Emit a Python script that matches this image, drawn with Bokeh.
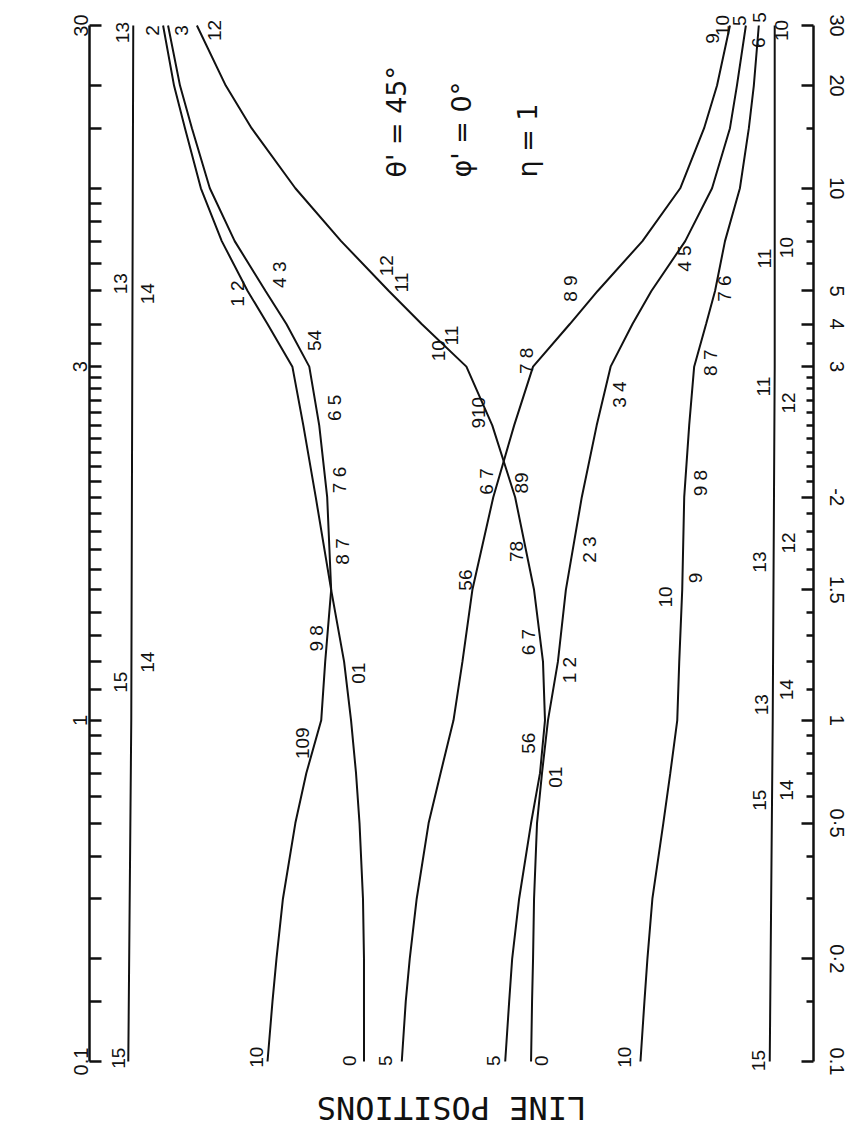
import math
from bokeh.plotting import figure
from bokeh.models import (Range1d, LinearAxis, FixedTicker, CustomJSTickFormatter,
                          ColumnDataSource, LabelSet, Label)
from bokeh.core.properties import value
from bokeh.embed import file_html
from bokeh.resources import INLINE

# ---------------- data ----------------
# field values at which the curves are sampled (vertical axis)
field = [30, 20, 15, 10, 7, 5, 4, 3, 2.5, 2, 1.5, 1.2, 1, 0.7, 0.5, 0.3, 0.2, 0.15, 0.1]

# line positions (arbitrary units) of each curve at the field values above
curve_a = [-29.0, -27.9, -26.8, -25.2, -23.1, -20.5, -18.5, -16.0, -14.9, -13.65, -12.1,
           -10.8, -10.1, -9.6, -9.25, -8.9, -8.8, -8.8, -8.8]
curve_b = [-28.5, -27.3, -26.1, -24.3, -21.8, -18.7, -16.6, -14.3, -13.3, -12.5, -12.1,
           -12.7, -13.1, -14.6, -15.7, -16.95, -17.6, -18.0, -18.5]
curve_c = [-25.6, -22.7, -20.1, -15.7, -11.1, -6.3, -3.0, 1.5, 4.1, 6.4, 8.3,
           9.2, 9.4, 8.9, 8.0, 6.8, 6.1, 5.8, 5.4]
curve_d = [28.0, 26.7, 25.4, 23.0, 19.2, 14.7, 11.9, 8.2, 6.3, 4.2, 2.1,
           1.1, 0.2, -1.1, -2.3, -3.5, -4.2, -4.6, -5.0]
curve_e = [29.6, 28.7, 28.0, 26.2, 23.5, 20.1, 18.2, 16.0, 14.6, 13.1, 11.5,
           10.7, 9.7, 9.1, 8.6, 8.3, 8.2, 8.1, 8.0]
curve_f = [30.9, 30.4, 29.9, 29.0, 27.5, 26.5, 25.6, 24.4, 23.9, 23.4, 23.2,
           22.9, 22.7, 22.0, 21.3, 20.2, 19.7, 19.4, 19.0]

# the two field-independent lines
vert_field_1 = [30, 1, 0.1]
vert_line_1 = [-32.0, -32.2, -32.5]
vert_field_2 = [30, 3, 1, 0.1]
vert_line_2 = [32.5, 32.5, 32.3, 32.0]

# curve labels: text, line position, field value
label_text = ["13", "2", "3", "12", "9", "10", "5", "5", "6", "10",
              "13", "14", "15", "14", "15",
              "1 2", "01", "0",
              "4 3", "54", "6 5", "7 6", "8 7", "9 8", "109", "10",
              "12", "11", "10", "11", "910", "89", "78", "6 7", "56", "5",
              "7 8", "6 7", "56", "8 9", "5",
              "4 5", "3 4", "2 3", "1 2", "01", "0",
              "7 6", "8 7", "9 8", "9", "10", "10",
              "11", "10", "11", "12", "13", "12", "13", "14", "15", "14", "15"]
label_pos = [-33.1, -30.1, -27.1, -23.8, 26.2, 27.2, 29.0, 31.0, 30.9, 33.2,
             -33.3, -30.6, -33.3, -30.6, -33.5,
             -21.5, -9.3, -10.3,
             -17.3, -13.8, -11.8, -11.3, -11.0, -13.6, -15.0, -19.6,
             -6.5, -5.0, -1.3, 0.0, 2.7, 7.0, 6.5, 7.7, 7.7, 4.2,
             7.5, 3.5, 1.4, 12.0, -6.6,
             23.4, 16.9, 13.9, 11.9, 10.5, 9.0,
             27.5, 26.0, 25.0, 24.5, 21.5, 17.4,
             31.5, 33.7, 31.4, 33.9, 31.0, 33.9, 31.2, 33.7, 31.0, 33.7, 30.9]
label_field = [28.6, 29.0, 29.0, 29.0, 27.5, 30.0, 31.0, 31.7, 26.7, 29.0,
               5.25, 4.91, 1.126, 1.198, 0.1022,
               4.91, 1.158, 0.1006,
               5.58, 3.58, 2.64, 2.11, 1.69, 1.29, 0.857, 0.1029,
               5.93, 5.29, 3.34, 3.70, 2.60, 2.09, 1.69, 1.275, 0.857, 0.1006,
               3.12, 2.10, 1.546, 5.08, 0.1006,
               6.22, 2.75, 1.70, 1.169, 0.681, 0.1006,
               5.08, 3.08, 2.09, 1.556, 1.467, 0.1029,
               6.22, 6.70, 2.82, 2.68, 1.635, 1.735, 1.05, 1.10, 0.583, 0.624, 0.1006]

# parameter annotations
param_text = ["\u03b8' = 45\u00b0", "\u03c6' = 0\u00b0", "\u03b7 = 1"]
param_pos = [-5.5, 1.0, 7.6]
param_field = 10.75

# axis ticks
right_major = [30, 20, 10, 5, 4, 3, 2, 1.5, 1, 0.5, 0.2, 0.1]
right_labels = ["30", "20", "10", "5", "4", "3", "-2", "1.5", "1", "0\u00b75", "0\u00b72", "0.1"]
right_minor = [15, 9, 8, 7, 6, 3.5, 2.9, 2.8, 2.7, 2.6, 2.5, 2.4, 2.3, 2.2, 2.1,
               1.9, 1.8, 1.7, 1.6, 1.4, 1.3, 1.2, 1.1, 0.9, 0.8, 0.7, 0.6, 0.4, 0.3, 0.15]
left_labeled = [30, 3, 1, 0.1]
left_labels = ["30", "3", "1", "0.1"]

# ---------------- field-axis mapping ----------------
K_MID = 741.0 / 341.0   # the 1..3 interval is drawn expanded


def fpos(b):
    lb = math.log10(b)
    if b <= 1:
        return 1 + lb
    if b <= 3:
        return 1 + K_MID * lb
    return 1 + K_MID * math.log10(3) + (lb - math.log10(3))


FONT = "Liberation Sans"
INK = "#111111"

T_LO, T_HI = fpos(0.1), fpos(30)
PXU = 1036.0 / (T_HI - T_LO)      # pixels per axis unit

p = figure(width=850, height=1130,
           x_range=Range1d(-36.4, 36.4),
           y_range=Range1d(T_LO - 64.0 / PXU, T_HI + 15.0 / PXU),
           output_backend="svg", toolbar_location=None,
           x_axis_location=None, y_axis_location="left",
           min_border_left=89, min_border_right=33, min_border_top=10, min_border_bottom=5)
p.outline_line_color = None
p.grid.visible = False
p.background_fill_color = "white"

fmt_code = """
for (let i = 0; i < vals.length; i++) {
  if (Math.abs(vals[i] - tick) < 1e-6) { return labs[i]; }
}
return "";
"""

# left axis
all_ticks = sorted(set(right_major + right_minor))
lax = p.yaxis[0]
lax.ticker = FixedTicker(ticks=[fpos(v) for v in all_ticks], minor_ticks=[])
lax.formatter = CustomJSTickFormatter(args=dict(vals=[fpos(v) for v in left_labeled], labs=left_labels),
                                      code=fmt_code)

# right axis
rax = LinearAxis(ticker=FixedTicker(ticks=[fpos(v) for v in right_major],
                                    minor_ticks=[fpos(v) for v in right_minor]),
                 formatter=CustomJSTickFormatter(args=dict(vals=[fpos(v) for v in right_major],
                                                           labs=right_labels), code=fmt_code))
p.add_layout(rax, "right")

for ax, standoff in ((lax, 2), (rax, 12)):
    ax.bounds = (T_LO, T_HI)
    ax.axis_line_width = 2.5
    ax.axis_line_color = INK
    ax.major_tick_line_width = 2.5
    ax.major_tick_line_color = INK
    ax.minor_tick_line_width = 2.5
    ax.minor_tick_line_color = INK
    ax.major_tick_out = 0
    ax.major_tick_in = 12
    ax.minor_tick_out = 0
    ax.minor_tick_in = 7
    ax.major_label_orientation = "vertical"
    ax.major_label_standoff = standoff
    ax.major_label_text_font = FONT
    ax.major_label_text_font_size = "20px"
    ax.major_label_text_color = INK

# curves
fy = [fpos(b) for b in field]
for c in (curve_a, curve_b, curve_c, curve_d, curve_e, curve_f):
    p.line(x=c, y=fy, line_width=2, line_color=INK)
p.line(x=vert_line_1, y=[fpos(b) for b in vert_field_1], line_width=2, line_color=INK)
p.line(x=vert_line_2, y=[fpos(b) for b in vert_field_2], line_width=2, line_color=INK)

# curve labels
lsrc = ColumnDataSource(dict(x=label_pos, y=[fpos(b) for b in label_field], text=label_text))
p.add_layout(LabelSet(x="x", y="y", text="text", source=lsrc, angle=math.pi / 2,
                      text_align="center", text_baseline="middle",
                      text_font=value(FONT), text_font_size="19px", text_color=INK))

# parameters
for t, xp in zip(param_text, param_pos):
    p.add_layout(Label(x=xp, y=fpos(param_field), text=t, angle=math.pi / 2,
                       text_align="left", text_baseline="middle",
                       text_font="DejaVu Sans", text_font_size="27px", text_color=INK))

# axis title (upside down, below the curves)
p.add_layout(Label(x=0.0, y=T_LO - 46.0 / PXU, text="LINE POSITIONS", angle=math.pi,
                   text_align="center", text_baseline="middle",
                   text_font="DejaVu Sans Mono", text_font_size="32px", text_color=INK))

open("out.html", "w").write(file_html(p, INLINE))
